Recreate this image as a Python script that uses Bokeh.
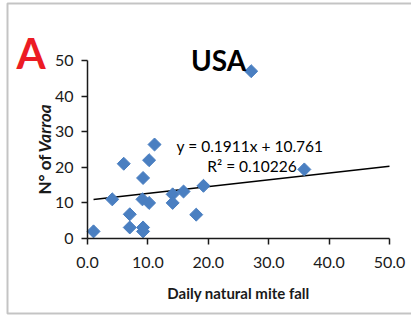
import numpy as np
from bokeh.plotting import figure
from bokeh.models import (Label, NumeralTickFormatter, FixedTicker, BoxAnnotation, Range1d,
                          ColumnDataSource, LinearAxis)
from bokeh.embed import file_html
from bokeh.resources import INLINE

# ---- data ----
mite_fall = [1.0, 4.1, 6.0, 7.0, 7.0, 9.2, 9.1, 9.2, 9.2, 10.2, 10.2, 11.1, 14.1, 14.1, 15.9, 18.0, 19.2, 27.1, 35.9]
varroa = [2.0, 11.0, 21.0, 6.8, 3.1, 17.0, 11.0, 3.1, 2.0, 10.0, 22.0, 26.4, 12.4, 10.0, 13.2, 6.7, 14.8, 47.0, 19.4]
slope = 0.1911
intercept = 10.761
r_squared = 0.10226
x_ticks = [0, 10, 20, 30, 40, 50]
y_ticks = [0, 10, 20, 30, 40, 50]
panel_letter = "A"
title_text = "USA"
x_label = "Daily natural mite fall"
y_label_plain = "N° of "
y_label_italic = "Varroa"
eq_line1 = "y = 0.1911x + 10.761"
eq_line2 = "R² = 0.10226"

FONT = "Lato"
BLUE = "#4a7fc1"
AXC = "#1a1a1a"

W, H = 411, 315
# plot box (pixels) inside the canvas: x 0..50 -> 87..389, y 0..50 -> 238..60
L, R, T, B = 87, 389, 60, 238
kx = (R - L) / 50.0
ky = (B - T) / 50.0
x_rng = Range1d(-L / kx, 50 + (W - R) / kx)
y_rng = Range1d(-(H - B) / ky, 50 + T / ky)

p = figure(width=W, height=H, output_backend="svg", toolbar_location=None,
           x_range=x_rng, y_range=y_rng, x_axis_location=None, y_axis_location=None,
           min_border=0, background_fill_color="white", border_fill_color="white")
p.grid.visible = False
p.outline_line_color = None

xaxis = LinearAxis(fixed_location=0, bounds=(0, 50), ticker=FixedTicker(ticks=x_ticks),
                   formatter=NumeralTickFormatter(format="0.0"))
yaxis = LinearAxis(fixed_location=0, bounds=(0, 50), ticker=FixedTicker(ticks=y_ticks))
for ax in (xaxis, yaxis):
    ax.axis_line_color = AXC
    ax.axis_line_width = 1.5
    ax.major_tick_line_color = AXC
    ax.major_tick_line_width = 1.5
    ax.major_tick_in = 0
    ax.major_tick_out = 6
    ax.minor_tick_line_color = None
    ax.major_label_text_font = FONT
    ax.major_label_text_font_size = "16px"
    ax.major_label_text_color = AXC
xaxis.major_label_standoff = 12
yaxis.major_label_standoff = 8
xaxis.axis_label = x_label
xaxis.axis_label_text_font = FONT
xaxis.axis_label_text_font_style = "bold"
xaxis.axis_label_text_font_size = "15px"
xaxis.axis_label_text_color = AXC
xaxis.axis_label_standoff = 13
p.add_layout(xaxis, "below")
p.add_layout(yaxis, "left")

# trendline (Excel-style, from min x forward to 50)
x_line = np.array([min(mite_fall), 50.0])
y_line = slope * x_line + intercept
p.line(x_line, y_line, line_color="black", line_width=1.6)

# points
src = ColumnDataSource(dict(x=mite_fall, y=varroa))
p.scatter("x", "y", source=src, marker="square", angle=np.pi / 4, size=9.2,
          fill_color=BLUE, line_color=BLUE, line_width=1)

# texts (canvas units: pixels from top-left of the canvas)
def lab(**kw):
    kw.setdefault("x_units", "canvas")
    kw.setdefault("y_units", "canvas")
    kw.setdefault("text_font", FONT)
    kw.setdefault("text_color", AXC)
    p.add_layout(Label(**kw))

lab(x=16, y=52, text=panel_letter, text_font_style="bold", text_font_size="42px",
    text_color="#ec1c24", text_align="left", text_baseline="alphabetic")
lab(x=218, y=59.5, text=title_text, text_font_style="bold", text_font_size="28px",
    text_color="black", text_align="center", text_baseline="alphabetic")
lab(x=249.5, y=145, text=eq_line1, text_font_size="15.5px",
    text_color="black", text_align="center", text_baseline="alphabetic")
lab(x=251.5, y=165, text=eq_line2, text_font_size="15.5px",
    text_color="black", text_align="center", text_baseline="alphabetic")
lab(x=44, y=194, text=y_label_plain, angle=np.pi / 2, text_font_style="bold",
    text_font_size="17px", text_align="left", text_baseline="middle")
lab(x=44, y=152, text=y_label_italic, angle=np.pi / 2, text_font_style="bold italic",
    text_font_size="17px", text_align="left", text_baseline="middle")

# outer frame of the figure panel
p.add_layout(BoxAnnotation(left=7, right=500, top=3, bottom=313,
                           left_units="canvas", right_units="canvas",
                           top_units="canvas", bottom_units="canvas",
                           fill_alpha=0, line_color="#3c3c3c", line_width=2))

open("out.html", "w").write(file_html(p, INLINE))
